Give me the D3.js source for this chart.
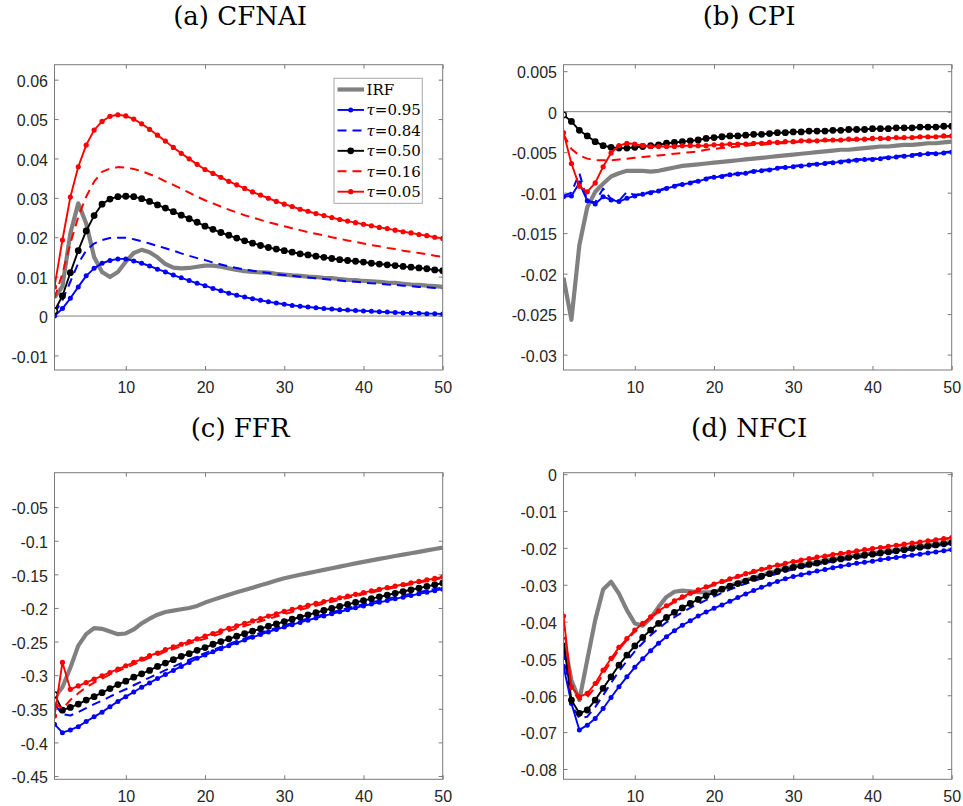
<!DOCTYPE html>
<html><head><meta charset="utf-8">
<script src="https://cdn.jsdelivr.net/npm/d3@7/dist/d3.min.js"></script>
<style>
html,body{margin:0;padding:0;background:#fff;}
svg{display:block;}
.tick text{font-family:"Liberation Sans",Arial,Helvetica,sans-serif;font-size:16px;fill:#262626;}
</style></head>
<body>
<svg id="chart" width="963" height="806"></svg>
<script>
// ---------------- DATA ----------------
const horizons = d3.range(1, 51);
const xTicks = [10, 20, 30, 40, 50];
const legendLabels = ["IRF", "0.95", "0.84", "0.50", "0.16", "0.05"];

// (a) CFNAI
const cfnaiTitle = "(a) CFNAI";
const cfnaiYTicks = [-0.01, 0, 0.01, 0.02, 0.03, 0.04, 0.05, 0.06];
const cfnaiIRF = [0.0047,0.0075,0.0210,0.0286,0.0235,0.0150,0.0112,0.0099,0.0112,0.0138,
 0.0160,0.0168,0.0162,0.0149,0.0132,0.0123,0.0121,0.0122,0.0125,0.0128,
 0.0128,0.0125,0.0121,0.0117,0.0114,0.0112,0.0111,0.0110,0.0107,0.0105,
 0.0103,0.0102,0.0100,0.0099,0.0097,0.0096,0.0094,0.0092,0.0091,0.0089,
 0.0088,0.0087,0.0085,0.0084,0.0082,0.0080,0.0079,0.0077,0.0076,0.0074];
const cfnaiQ95 = [0.0000,0.0019,0.0045,0.0074,0.0102,0.0121,0.0134,0.0141,0.0145,0.0145,
 0.0140,0.0134,0.0127,0.0119,0.0112,0.0104,0.0097,0.0090,0.0083,0.0077,
 0.0070,0.0064,0.0058,0.0053,0.0048,0.0044,0.0040,0.0036,0.0033,0.0030,
 0.0027,0.0025,0.0023,0.0021,0.0019,0.0018,0.0016,0.0015,0.0014,0.0013,
 0.0012,0.0011,0.0010,0.0009,0.0008,0.0008,0.0007,0.0006,0.0006,0.0005];
const cfnaiQ84 = [0.0007,0.0040,0.0087,0.0134,0.0166,0.0184,0.0193,0.0198,0.0199,0.0199,
 0.0195,0.0190,0.0184,0.0178,0.0172,0.0166,0.0159,0.0153,0.0147,0.0142,
 0.0136,0.0131,0.0126,0.0122,0.0118,0.0115,0.0112,0.0109,0.0106,0.0104,
 0.0102,0.0100,0.0098,0.0096,0.0094,0.0092,0.0090,0.0088,0.0087,0.0085,
 0.0083,0.0082,0.0080,0.0079,0.0077,0.0076,0.0074,0.0073,0.0071,0.0070];
const cfnaiQ50 = [0.0013,0.0051,0.0110,0.0166,0.0216,0.0255,0.0284,0.0297,0.0303,0.0304,
 0.0303,0.0298,0.0291,0.0282,0.0274,0.0265,0.0256,0.0247,0.0238,0.0228,
 0.0220,0.0212,0.0205,0.0198,0.0191,0.0185,0.0179,0.0174,0.0170,0.0166,
 0.0162,0.0158,0.0155,0.0152,0.0149,0.0146,0.0143,0.0141,0.0139,0.0137,
 0.0134,0.0132,0.0130,0.0128,0.0126,0.0124,0.0122,0.0120,0.0117,0.0115];
const cfnaiQ16 = [0.0045,0.0108,0.0184,0.0252,0.0303,0.0341,0.0366,0.0374,0.0378,0.0377,
 0.0373,0.0368,0.0360,0.0352,0.0342,0.0333,0.0323,0.0313,0.0303,0.0294,
 0.0286,0.0278,0.0270,0.0263,0.0256,0.0250,0.0244,0.0238,0.0233,0.0228,
 0.0223,0.0218,0.0213,0.0209,0.0205,0.0200,0.0196,0.0192,0.0188,0.0184,
 0.0180,0.0177,0.0173,0.0170,0.0166,0.0163,0.0160,0.0157,0.0153,0.0150];
const cfnaiQ05 = [0.0074,0.0193,0.0302,0.0379,0.0434,0.0472,0.0494,0.0507,0.0511,0.0508,
 0.0500,0.0488,0.0474,0.0459,0.0444,0.0428,0.0413,0.0399,0.0385,0.0372,
 0.0362,0.0352,0.0342,0.0333,0.0324,0.0315,0.0307,0.0299,0.0291,0.0284,
 0.0278,0.0271,0.0266,0.0260,0.0255,0.0250,0.0245,0.0241,0.0237,0.0233,
 0.0229,0.0225,0.0222,0.0218,0.0214,0.0211,0.0207,0.0204,0.0200,0.0197];

// (b) CPI
const cpiTitle = "(b) CPI";
const cpiYTicks = [-0.03, -0.025, -0.02, -0.015, -0.01, -0.005, 0, 0.005];
const cpiIRF = [-0.0205,-0.0257,-0.0165,-0.0118,-0.0099,-0.0089,-0.0080,-0.0076,-0.0073,-0.0073,
 -0.0073,-0.0074,-0.0073,-0.0071,-0.0069,-0.0067,-0.0066,-0.0065,-0.0064,-0.0063,
 -0.0062,-0.0061,-0.0060,-0.0059,-0.0058,-0.0057,-0.0056,-0.0055,-0.0054,-0.0053,
 -0.0052,-0.0051,-0.0050,-0.0049,-0.0048,-0.0047,-0.0047,-0.0046,-0.0045,-0.0044,
 -0.0043,-0.0043,-0.0042,-0.0041,-0.0041,-0.0040,-0.0039,-0.0039,-0.0038,-0.0037];
const cpiQ95 = [-0.0105,-0.0104,-0.0088,-0.0110,-0.0114,-0.0105,-0.0109,-0.0111,-0.0107,-0.0104,
 -0.0102,-0.0100,-0.0098,-0.0095,-0.0092,-0.0090,-0.0088,-0.0086,-0.0083,-0.0081,
 -0.0080,-0.0078,-0.0077,-0.0076,-0.0074,-0.0073,-0.0072,-0.0070,-0.0069,-0.0068,
 -0.0067,-0.0066,-0.0065,-0.0064,-0.0063,-0.0062,-0.0061,-0.0060,-0.0059,-0.0059,
 -0.0058,-0.0057,-0.0056,-0.0055,-0.0054,-0.0053,-0.0052,-0.0052,-0.0051,-0.0050];
const cpiQ84 = [-0.0104,-0.0100,-0.0076,-0.0110,-0.0112,-0.0095,-0.0108,-0.0110,-0.0099,-0.0103,
 -0.0101,-0.0099,-0.0097,-0.0094,-0.0091,-0.0089,-0.0087,-0.0085,-0.0082,-0.0080,
 -0.0079,-0.0077,-0.0076,-0.0075,-0.0073,-0.0072,-0.0071,-0.0069,-0.0068,-0.0067,
 -0.0066,-0.0065,-0.0064,-0.0063,-0.0062,-0.0061,-0.0060,-0.0059,-0.0058,-0.0058,
 -0.0057,-0.0056,-0.0055,-0.0054,-0.0053,-0.0052,-0.0051,-0.0051,-0.0050,-0.0049];
const cpiQ50 = [-0.0004,-0.0012,-0.0023,-0.0030,-0.0037,-0.0042,-0.0044,-0.0045,-0.0045,-0.0044,
 -0.0043,-0.0042,-0.0041,-0.0039,-0.0038,-0.0037,-0.0036,-0.0035,-0.0033,-0.0032,
 -0.0031,-0.0030,-0.0030,-0.0029,-0.0028,-0.0028,-0.0027,-0.0026,-0.0026,-0.0025,
 -0.0025,-0.0024,-0.0024,-0.0024,-0.0023,-0.0023,-0.0022,-0.0022,-0.0022,-0.0021,
 -0.0021,-0.0021,-0.0020,-0.0020,-0.0020,-0.0019,-0.0019,-0.0019,-0.0018,-0.0018];
const cpiQ16 = [-0.0028,-0.0046,-0.0054,-0.0058,-0.0060,-0.0060,-0.0060,-0.0059,-0.0058,-0.0057,
 -0.0056,-0.0055,-0.0054,-0.0053,-0.0052,-0.0051,-0.0050,-0.0049,-0.0047,-0.0046,
 -0.0045,-0.0044,-0.0043,-0.0042,-0.0041,-0.0041,-0.0040,-0.0039,-0.0039,-0.0038,
 -0.0037,-0.0037,-0.0036,-0.0036,-0.0036,-0.0035,-0.0035,-0.0035,-0.0034,-0.0034,
 -0.0034,-0.0033,-0.0033,-0.0033,-0.0032,-0.0032,-0.0032,-0.0031,-0.0031,-0.0031];
const cpiQ05 = [-0.0026,-0.0064,-0.0092,-0.0099,-0.0088,-0.0068,-0.0051,-0.0042,-0.0039,-0.0040,
 -0.0042,-0.0043,-0.0043,-0.0043,-0.0043,-0.0042,-0.0042,-0.0042,-0.0042,-0.0041,
 -0.0041,-0.0040,-0.0040,-0.0040,-0.0039,-0.0039,-0.0038,-0.0038,-0.0037,-0.0037,
 -0.0036,-0.0036,-0.0036,-0.0035,-0.0035,-0.0035,-0.0034,-0.0034,-0.0034,-0.0033,
 -0.0033,-0.0033,-0.0032,-0.0032,-0.0032,-0.0031,-0.0031,-0.0031,-0.0030,-0.0030];

// (c) FFR
const ffrTitle = "(c) FFR";
const ffrYTicks = [-0.45, -0.4, -0.35, -0.3, -0.25, -0.2, -0.15, -0.1, -0.05];
const ffrIRF = [-0.333,-0.318,-0.289,-0.256,-0.239,-0.230,-0.231,-0.235,-0.239,-0.238,
 -0.232,-0.223,-0.216,-0.210,-0.206,-0.204,-0.202,-0.200,-0.197,-0.192,
 -0.188,-0.184,-0.1803,-0.1768,-0.1733,-0.1698,-0.1663,-0.1628,-0.1593,-0.1558,
 -0.1532,-0.1507,-0.1482,-0.1457,-0.1433,-0.1409,-0.1385,-0.1361,-0.1337,-0.1314,
 -0.1292,-0.1270,-0.1249,-0.1228,-0.1207,-0.1186,-0.1165,-0.1144,-0.1123,-0.1102];
const ffrQ95 = [-0.373,-0.3855,-0.3815,-0.3766,-0.369,-0.362,-0.355,-0.347,-0.339,-0.332,
 -0.325,-0.318,-0.3115,-0.305,-0.299,-0.293,-0.287,-0.281,-0.275,-0.270,
 -0.2652,-0.2606,-0.2562,-0.2519,-0.2477,-0.2436,-0.2396,-0.2357,-0.2320,-0.2284,
 -0.2249,-0.2215,-0.2182,-0.2150,-0.2118,-0.2087,-0.2057,-0.2027,-0.1998,-0.1970,
 -0.1943,-0.1916,-0.1890,-0.1864,-0.1839,-0.1814,-0.1790,-0.1766,-0.1743,-0.1720];
const ffrQ84 = [-0.343,-0.358,-0.360,-0.355,-0.349,-0.343,-0.338,-0.332,-0.326,-0.321,
 -0.3150,-0.3092,-0.3035,-0.2980,-0.2926,-0.2873,-0.2821,-0.2770,-0.2720,-0.2672,
 -0.2625,-0.2580,-0.2536,-0.2493,-0.2452,-0.2411,-0.2372,-0.2333,-0.2296,-0.2260,
 -0.2225,-0.2191,-0.2158,-0.2125,-0.2094,-0.2063,-0.2033,-0.2003,-0.1974,-0.1946,
 -0.1918,-0.1891,-0.1865,-0.1839,-0.1814,-0.1789,-0.1765,-0.1741,-0.1718,-0.1695];
const ffrQ50 = [-0.329,-0.352,-0.348,-0.343,-0.337,-0.332,-0.326,-0.320,-0.314,-0.309,
 -0.303,-0.298,-0.293,-0.287,-0.282,-0.277,-0.272,-0.268,-0.263,-0.259,
 -0.254,-0.250,-0.2460,-0.2421,-0.2383,-0.2345,-0.2308,-0.2272,-0.2237,-0.2202,
 -0.2168,-0.2135,-0.2102,-0.2070,-0.2038,-0.2007,-0.1977,-0.1947,-0.1918,-0.1890,
 -0.1862,-0.1835,-0.1808,-0.1782,-0.1756,-0.1730,-0.1705,-0.1680,-0.1655,-0.1630];
const ffrQ16 = [-0.341,-0.350,-0.337,-0.327,-0.318,-0.311,-0.305,-0.299,-0.294,-0.289,
 -0.284,-0.279,-0.274,-0.270,-0.265,-0.261,-0.257,-0.253,-0.249,-0.246,
 -0.242,-0.238,-0.2343,-0.2306,-0.2269,-0.2233,-0.2197,-0.2161,-0.2126,-0.2091,
 -0.2059,-0.2027,-0.1996,-0.1966,-0.1936,-0.1907,-0.1878,-0.1850,-0.1823,-0.1796,
 -0.1770,-0.1744,-0.1719,-0.1694,-0.1670,-0.1646,-0.1623,-0.1600,-0.1578,-0.1557];
const ffrQ05 = [-0.3606,-0.281,-0.321,-0.316,-0.311,-0.306,-0.301,-0.296,-0.291,-0.286,
 -0.281,-0.276,-0.271,-0.267,-0.262,-0.258,-0.254,-0.250,-0.246,-0.242,
 -0.238,-0.234,-0.2303,-0.2266,-0.2229,-0.2193,-0.2157,-0.2121,-0.2086,-0.2051,
 -0.2021,-0.1991,-0.1962,-0.1933,-0.1905,-0.1877,-0.1850,-0.1823,-0.1797,-0.1771,
 -0.1746,-0.1722,-0.1698,-0.1674,-0.1651,-0.1628,-0.1605,-0.1583,-0.1561,-0.1540];

// (d) NFCI
const nfciTitle = "(d) NFCI";
const nfciYTicks = [-0.08, -0.07, -0.06, -0.05, -0.04, -0.03, -0.02, -0.01, 0];
const nfciIRF = [-0.0446,-0.0559,-0.0613,-0.0504,-0.0396,-0.0313,-0.0292,-0.0324,-0.0369,-0.0405,
 -0.0411,-0.0391,-0.0360,-0.0333,-0.0319,-0.0316,-0.0318,-0.0320,-0.0321,-0.0319,
 -0.0312,-0.0303,-0.0295,-0.0288,-0.0281,-0.0275,-0.0268,-0.0262,-0.0256,-0.0251,
 -0.0247,-0.0243,-0.0239,-0.0235,-0.0231,-0.0228,-0.0224,-0.0221,-0.0218,-0.0215,
 -0.0212,-0.0209,-0.0206,-0.0203,-0.0199,-0.0196,-0.0193,-0.0190,-0.0187,-0.0184];
const nfciQ95 = [-0.0521,-0.0622,-0.0694,-0.0681,-0.0663,-0.0636,-0.0606,-0.0577,-0.0550,-0.0524,
 -0.0501,-0.0479,-0.0459,-0.0441,-0.0425,-0.0410,-0.0398,-0.0385,-0.0374,-0.0364,
 -0.0355,-0.0345,-0.0335,-0.0325,-0.0316,-0.0307,-0.0299,-0.0291,-0.0284,-0.0278,
 -0.0273,-0.0268,-0.0263,-0.0259,-0.0254,-0.0250,-0.0246,-0.0242,-0.0239,-0.0236,
 -0.0232,-0.0229,-0.0226,-0.0223,-0.0220,-0.0217,-0.0214,-0.0211,-0.0208,-0.0205];
const nfciQ84 = [-0.0480,-0.0625,-0.0662,-0.0658,-0.0632,-0.0600,-0.0567,-0.0535,-0.0507,-0.0481,
 -0.0458,-0.0437,-0.0419,-0.0402,-0.0388,-0.0375,-0.0363,-0.0352,-0.0342,-0.0332,
 -0.0322,-0.0313,-0.0305,-0.0297,-0.0290,-0.0283,-0.0276,-0.0270,-0.0264,-0.0258,
 -0.0253,-0.0249,-0.0245,-0.0241,-0.0237,-0.0234,-0.0230,-0.0227,-0.0224,-0.0221,
 -0.0218,-0.0214,-0.0211,-0.0208,-0.0204,-0.0201,-0.0198,-0.0195,-0.0192,-0.0189];
const nfciQ50 = [-0.0453,-0.0613,-0.0649,-0.0640,-0.0613,-0.0581,-0.0550,-0.0518,-0.0491,-0.0466,
 -0.0443,-0.0423,-0.0405,-0.0389,-0.0375,-0.0363,-0.0351,-0.0340,-0.0330,-0.0321,
 -0.0312,-0.0304,-0.0297,-0.0290,-0.0283,-0.0277,-0.0270,-0.0264,-0.0258,-0.0253,
 -0.0249,-0.0245,-0.0241,-0.0237,-0.0233,-0.0230,-0.0226,-0.0223,-0.0220,-0.0217,
 -0.0214,-0.0211,-0.0208,-0.0205,-0.0201,-0.0198,-0.0195,-0.0192,-0.0189,-0.0186];
const nfciQ16 = [-0.0400,-0.0585,-0.0612,-0.0605,-0.0578,-0.0542,-0.0508,-0.0476,-0.0450,-0.0427,
 -0.0408,-0.0390,-0.0374,-0.0360,-0.0347,-0.0336,-0.0326,-0.0317,-0.0309,-0.0301,
 -0.0294,-0.0287,-0.0280,-0.0273,-0.0267,-0.0261,-0.0255,-0.0250,-0.0245,-0.0240,
 -0.0236,-0.0232,-0.0228,-0.0224,-0.0220,-0.0217,-0.0214,-0.0210,-0.0207,-0.0204,
 -0.0201,-0.0198,-0.0195,-0.0192,-0.0189,-0.0186,-0.0183,-0.0180,-0.0177,-0.0174];
const nfciQ05 = [-0.0385,-0.0577,-0.0604,-0.0595,-0.0568,-0.0532,-0.0500,-0.0470,-0.0446,-0.0423,
 -0.0405,-0.0387,-0.0371,-0.0357,-0.0344,-0.0333,-0.0323,-0.0314,-0.0306,-0.0298,
 -0.0291,-0.0284,-0.0277,-0.0270,-0.0264,-0.0258,-0.0252,-0.0247,-0.0242,-0.0237,
 -0.0233,-0.0229,-0.0225,-0.0222,-0.0218,-0.0215,-0.0212,-0.0208,-0.0205,-0.0202,
 -0.0199,-0.0196,-0.0193,-0.0190,-0.0187,-0.0184,-0.0181,-0.0178,-0.0175,-0.0172];

// ---------------- STYLES / LAYOUT ----------------
const seriesStyles = [
  {color:"#808080", width:4.2, dash:null,  r:0},
  {color:"#0000ff", width:1.9, dash:null,  r:2.5},
  {color:"#0000ff", width:2,   dash:"9,6", r:0},
  {color:"#000000", width:1.9, dash:null,  r:3.4},
  {color:"#ff0000", width:2,   dash:"9,6", r:0},
  {color:"#ff0000", width:1.9, dash:null,  r:2.6}
];

const panels = [
  {title:cfnaiTitle, ticks:cfnaiYTicks, domain:[-0.0137,0.0638], L:54.5, R:442.7, T:64.7, B:370,
   series:[cfnaiIRF,cfnaiQ95,cfnaiQ84,cfnaiQ50,cfnaiQ16,cfnaiQ05], zero:true, legend:true, tY:25},
  {title:cpiTitle, ticks:cpiYTicks, domain:[-0.0319,0.0058], L:563.5, R:951.7, T:64.7, B:370,
   series:[cpiIRF,cpiQ95,cpiQ84,cpiQ50,cpiQ16,cpiQ05], zero:true, legend:false, tY:25},
  {title:ffrTitle, ticks:ffrYTicks, domain:[-0.4549,0.0012], L:54.5, R:442.7, T:472.7, B:779.3,
   series:[ffrIRF,ffrQ95,ffrQ84,ffrQ50,ffrQ16,ffrQ05], zero:false, legend:false, tY:437},
  {title:nfciTitle, ticks:nfciYTicks, domain:[-0.0828,0.0004], L:563.5, R:951.7, T:472.7, B:779.3,
   series:[nfciIRF,nfciQ95,nfciQ84,nfciQ50,nfciQ16,nfciQ05], zero:false, legend:false, tY:437}
];

const fmt = v => String(+v.toFixed(4));
const axisColor = "#7a7a7a";
const svg = d3.select("#chart");

panels.forEach((p, pi) => {
  const x = d3.scaleLinear().domain([1, 50]).range([p.L, p.R]);
  const y = d3.scaleLinear().domain(p.domain).range([p.B, p.T]);
  const g = svg.append("g");

  // title
  g.append("text")
    .attr("x", (p.L + p.R) / 2 - 8.5).attr("y", p.tY)
    .attr("text-anchor", "middle")
    .style("font-family", "'DejaVu Serif', 'Liberation Serif', serif")
    .style("font-size", "26px").style("fill", "#000")
    .text(p.title);

  const clipId = "clip" + pi;
  svg.append("clipPath").attr("id", clipId).append("rect")
    .attr("x", p.L).attr("y", p.T).attr("width", p.R - p.L).attr("height", p.B - p.T);

  // axes
  const left = d3.axisLeft(y).tickValues(p.ticks).tickFormat(fmt).tickSize(-4).tickPadding(6.5);
  const right = d3.axisRight(y).tickValues(p.ticks).tickFormat("").tickSize(-4);
  const bottom = d3.axisBottom(x).tickValues(xTicks).tickFormat(d3.format("d")).tickSize(-4).tickPadding(11.5);
  const top = d3.axisTop(x).tickValues(xTicks).tickFormat("").tickSize(-4);

  const styleAxis = sel => {
    sel.select(".domain").remove();
    sel.selectAll(".tick line").attr("stroke", axisColor);
  };
  g.append("g").attr("transform", `translate(${p.L},0)`).call(left).call(styleAxis)
    .selectAll(".tick text").attr("dy", "0.42em");
  g.append("g").attr("transform", `translate(${p.R},0)`).call(right).call(styleAxis);
  g.append("g").attr("transform", `translate(0,${p.B})`).call(bottom).call(styleAxis);
  g.append("g").attr("transform", `translate(0,${p.T})`).call(top).call(styleAxis);

  // zero line
  if (p.zero) {
    g.append("line")
      .attr("x1", x(1)).attr("x2", x(50)).attr("y1", y(0)).attr("y2", y(0))
      .attr("stroke", "#808080").attr("stroke-width", 1);
  }

  const plot = g.append("g").attr("clip-path", `url(#${clipId})`);
  const line = d3.line().x((d, i) => x(horizons[i])).y(d => y(d));

  p.series.forEach((vals, si) => {
    const s = seriesStyles[si];
    plot.append("path").datum(vals)
      .attr("d", line).attr("fill", "none")
      .attr("stroke", s.color).attr("stroke-width", s.width)
      .attr("stroke-linejoin", "round")
      .attr("stroke-dasharray", s.dash);
    if (s.r > 0) {
      const hollowFirst = (si === 3);
      plot.selectAll(null).data(vals).enter().append("circle")
        .attr("cx", (d, i) => x(horizons[i])).attr("cy", d => y(d))
        .attr("r", (d, i) => (hollowFirst && i === 0) ? s.r - 0.6 : s.r)
        .attr("fill", (d, i) => (hollowFirst && i === 0) ? "#fff" : s.color)
        .attr("stroke", s.color)
        .attr("stroke-width", (d, i) => (hollowFirst && i === 0) ? 1.4 : 0);
    }
  });

  // box
  g.append("rect")
    .attr("x", p.L).attr("y", p.T).attr("width", p.R - p.L).attr("height", p.B - p.T)
    .attr("fill", "none").attr("stroke", axisColor).attr("stroke-width", 1);

  // legend
  if (p.legend) {
    const lg = g.append("g");
    lg.append("rect").attr("x", 334).attr("y", 78.3).attr("width", 88.3).attr("height", 125)
      .attr("fill", "#fff").attr("stroke", "#a8a8a8").attr("stroke-width", 1);
    const rowY = d3.scaleLinear().domain([0, 5]).range([89.5, 191.7]);
    legendLabels.forEach((lab, k) => {
      const s = seriesStyles[k];
      const yy = rowY(k);
      lg.append("line").attr("x1", 337.5).attr("x2", 364).attr("y1", yy).attr("y2", yy)
        .attr("stroke", s.color).attr("stroke-width", s.width).attr("stroke-dasharray", s.dash);
      if (s.r > 0) {
        lg.append("circle").attr("cx", 350.7).attr("cy", yy).attr("r", s.r).attr("fill", s.color);
      }
      const t = lg.append("text").attr("x", 366.5).attr("y", yy + 5.4)
        .style("font-family", "'DejaVu Serif', 'Liberation Serif', serif")
        .style("font-size", "15px").style("fill", "#000");
      if (k === 0) {
        t.text(lab);
      } else {
        t.append("tspan").style("font-style", "italic").text("\u03C4");
        t.append("tspan").text("=" + lab);
      }
    });
  }
});
</script>
</body></html>
